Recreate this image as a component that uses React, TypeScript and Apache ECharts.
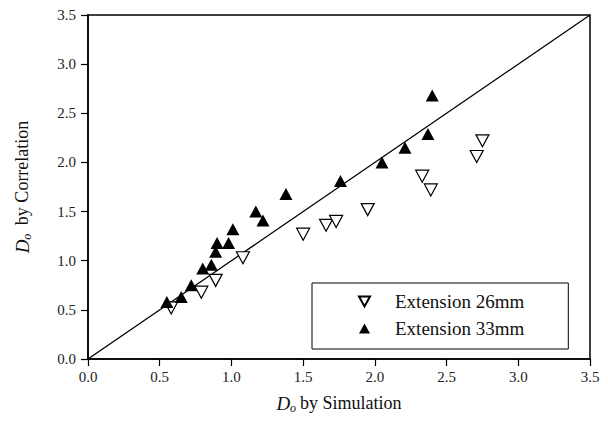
import React, { useEffect, useRef } from "react";
import * as echarts from "echarts";

const seriesNames = ["Extension 26mm", "Extension 33mm"];

const ext26: number[][] = [
  [0.58, 0.52],
  [0.79, 0.68],
  [0.89, 0.8],
  [1.08, 1.03],
  [1.5, 1.27],
  [1.66, 1.36],
  [1.73, 1.4],
  [1.95, 1.52],
  [2.33, 1.86],
  [2.39, 1.72],
  [2.71, 2.06],
  [2.75, 2.22],
];

const ext33: number[][] = [
  [0.55, 0.58],
  [0.65, 0.63],
  [0.72, 0.75],
  [0.8, 0.92],
  [0.86, 0.96],
  [0.89, 1.09],
  [0.9, 1.18],
  [0.98, 1.18],
  [1.01, 1.32],
  [1.17, 1.5],
  [1.22, 1.41],
  [1.38, 1.68],
  [1.76, 1.81],
  [2.05, 2.0],
  [2.21, 2.15],
  [2.37, 2.29],
  [2.4, 2.68],
];

const diagonal: number[][] = [
  [0, 0],
  [3.5, 3.5],
];

const FONT = "Liberation Serif";
const DOWN_TRI = "path://M0,0L10,0L5,9Z";

export default function App() {
  const ref = useRef<HTMLDivElement>(null);
  useEffect(() => {
    if (!ref.current) return;
    const chart = echarts.init(ref.current, undefined, { renderer: "svg" });
    const nameStyle = {
      fontFamily: FONT,
      fontSize: 18,
      color: "#111",
      rich: {
        i: { fontFamily: FONT, fontSize: 19, fontStyle: "italic", color: "#111" },
        s: { fontFamily: FONT, fontSize: 12, fontStyle: "italic", color: "#111", padding: [10, 4, 0, 0] },
        t: { fontFamily: FONT, fontSize: 18, color: "#111" },
      },
    };
    chart.setOption({
      animation: false,
      backgroundColor: "#fff",
      textStyle: { fontFamily: FONT },
      grid: {
        left: 88,
        right: 18,
        top: 15,
        bottom: 62,
        show: true,
        borderColor: "#000",
        borderWidth: 1.5,
      },
      legend: {
        orient: "vertical",
        left: 312,
        top: 283,
        padding: [9, 44, 11, 46],
        itemGap: 8,
        itemWidth: 11,
        itemHeight: 10,
        borderColor: "#000",
        borderWidth: 1,
        backgroundColor: "#fff",
        textStyle: { fontFamily: FONT, fontSize: 19, color: "#111", padding: [0, 0, 0, 20] },
        data: [
          { name: seriesNames[0], icon: DOWN_TRI },
          { name: seriesNames[1], icon: "triangle" },
        ],
      },
      xAxis: {
        type: "value",
        min: 0,
        max: 3.5,
        interval: 0.5,
        name: "{i|D}{s|o}{t|by Simulation}",
        nameLocation: "middle",
        nameGap: 33,
        nameTextStyle: nameStyle,
        axisLine: { lineStyle: { color: "#000", width: 1.5 } },
        axisTick: { show: true, inside: false, length: 7, lineStyle: { color: "#000", width: 1.2 } },
        axisLabel: {
          fontFamily: FONT,
          fontSize: 15,
          color: "#222",
          margin: 10,
          formatter: (v: number) => v.toFixed(1),
        },
        splitLine: { show: false },
      },
      yAxis: {
        type: "value",
        min: 0,
        max: 3.5,
        interval: 0.5,
        name: "{i|D}{s|o}{t| by Correlation}",
        nameLocation: "middle",
        nameGap: 55,
        nameRotate: 90,
        nameTextStyle: nameStyle,
        axisLine: { lineStyle: { color: "#000", width: 1.5 } },
        axisTick: { show: true, inside: false, length: 7, lineStyle: { color: "#000", width: 1.2 } },
        axisLabel: {
          fontFamily: FONT,
          fontSize: 15,
          color: "#222",
          margin: 12,
          formatter: (v: number) => v.toFixed(1),
        },
        splitLine: { show: false },
      },
      series: [
        {
          type: "line",
          data: diagonal,
          showSymbol: false,
          symbol: "none",
          silent: true,
          lineStyle: { color: "#000", width: 1.3 },
          z: 1,
        },
        {
          name: seriesNames[0],
          type: "scatter",
          data: ext26,
          symbol: DOWN_TRI,
          symbolSize: [13, 12],
          itemStyle: { color: "#fff", borderColor: "#000", borderWidth: 1.2, opacity: 1 },
          z: 2,
        },
        {
          name: seriesNames[1],
          type: "scatter",
          data: ext33,
          symbol: "triangle",
          symbolSize: [13, 12],
          itemStyle: { color: "#000", opacity: 1 },
          z: 3,
        },
      ],
    });
    return () => chart.dispose();
  }, []);
  return <div ref={ref} style={{ width: 608, height: 421, margin: -8 }} />;
}
